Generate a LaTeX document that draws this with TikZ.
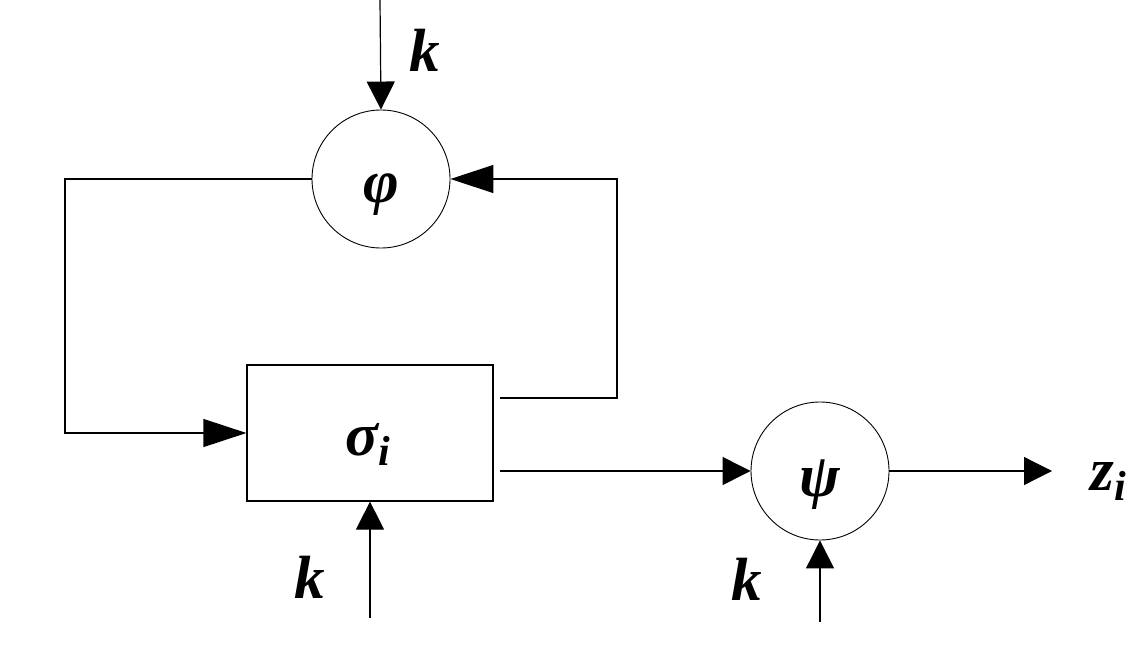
\documentclass[tikz,border=0pt]{standalone}
\usepackage{fontspec}
\newfontface\lblfont{Liberation Serif Bold Italic}
\usetikzlibrary{arrows.meta}
\tikzset{
  conn/.style={line width=1.2pt, -{Triangle[length=28pt,width=28pt]}},
  longconn/.style={line width=1.2pt, -{Triangle[length=43pt,width=28pt]}},
  blockcircle/.style={circle, draw, line width=0.9pt, minimum size=138pt, inner sep=0pt},
  blockbox/.style={rectangle, draw, line width=1.2pt, minimum width=246pt, minimum height=136pt, inner sep=0pt},
  lbl/.style={inner sep=0pt, anchor=base, font=\fontsize{61}{62}\lblfont},
}
\newcommand{\mysub}[1]{{\fontsize{42}{42}\lblfont\raisebox{-10pt}{#1}}}
\begin{document}
\begin{tikzpicture}[x=1pt,y=-1pt]
\useasboundingbox (0,0) rectangle (1131,650);
\node[blockcircle] (phi) at (381,179) {};
\node[blockbox] (box) at (370,433) {};
\node[blockcircle] (psi) at (820,471) {};
% labels
\node[lbl] (philbl) at (381,202) {φ};
\node[lbl] (siglbl) at (368,455) {σ\mysub{i}};
\node[lbl] (psilbl) at (820,496) {ψ};
\node[lbl] (k1) at (425,72) {k};
\node[lbl] (k2) at (310,598) {k};
\node[lbl] (k3) at (747,600) {k};
\node[lbl] (zlbl) at (1108,490) {z\mysub{i}};
% coordinates
\coordinate (top) at (380,0);
\coordinate (l1) at (65,179);
\coordinate (r0) at (500,398);
\coordinate (r1) at (617,398);
\coordinate (o0) at (500,471);
\coordinate (zend) at (1052,471);
\coordinate (b0) at (370,618);
\coordinate (p0) at (820,622);
% connectors
\draw[conn] (top) -- (phi.north);
\draw[longconn] (phi.west) -- (l1) |- (box.west);
\draw[longconn] (r0) -- (r1) |- (phi.east);
\draw[conn] (o0) -- (psi.west);
\draw[conn] (psi.east) -- (zend);
\draw[conn] (b0) -- (box.south);
\draw[conn] (p0) -- (psi.south);
\end{tikzpicture}
\end{document}
